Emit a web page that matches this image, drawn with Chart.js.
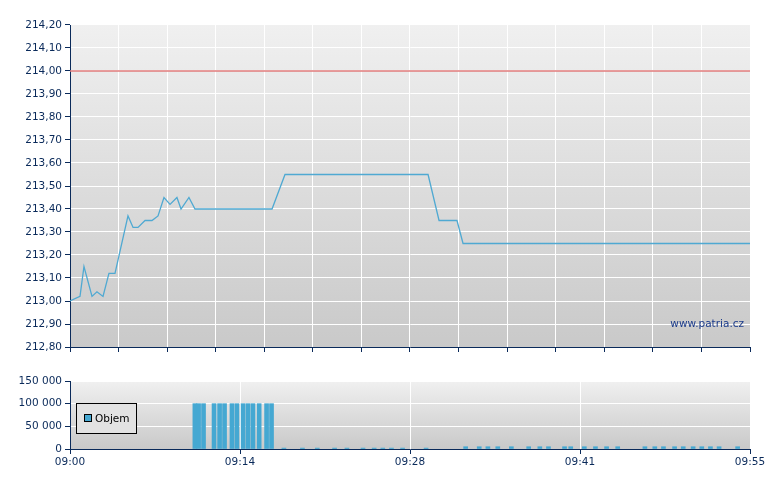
<!DOCTYPE html>
<html>
<head>
<meta charset="utf-8">
<script src="https://cdn.jsdelivr.net/npm/chart.js@4.4.1/dist/chart.umd.min.js"></script>
<style>
 body { margin:0; background:#fff; }
 #c1 { position:absolute; left:0; top:0; }
 #c2 { position:absolute; left:0; top:370px; }
</style>
</head>
<body>
<canvas id="c1" width="780" height="357"></canvas>
<canvas id="c2" width="780" height="103"></canvas>
<script>
// minutes after 09:00
var priceMin = [0, 0.81, 1.13, 1.78, 2.18, 2.67, 3.15, 3.64, 4.69, 5.10, 5.50, 6.07, 6.63, 7.12, 7.60, 8.09, 8.65, 8.98, 9.62, 10.11, 16.34, 17.39, 28.96, 29.85, 31.30, 31.79, 55];
var priceVal = [213.00, 213.02, 213.15, 213.02, 213.04, 213.02, 213.12, 213.12, 213.37, 213.32, 213.32, 213.35, 213.35, 213.37, 213.45, 213.42, 213.45, 213.40, 213.45, 213.40, 213.40, 213.55, 213.55, 213.35, 213.35, 213.25, 213.25];
var refPrice = 214.00;

var volMin = [10.1, 10.4, 10.8, 11.65, 12.1, 12.5, 13.1, 13.5, 14.0, 14.4, 14.8, 15.3, 15.9, 16.3,
  17.3, 18.8, 20.0, 21.4, 22.4, 23.7, 24.6, 25.3, 26.0, 26.9, 28.8,
  32.0, 33.1, 33.8, 34.6, 35.7, 37.1, 38.0, 38.7, 40.0, 40.5, 41.6, 42.5, 43.4, 44.3,
  46.5, 47.3, 48.0, 48.9, 49.6, 50.4, 51.1, 51.8, 52.5, 54.0, 54.7];
var volVal = [100000, 100000, 100000, 100000, 100000, 100000, 100000, 100000, 100000, 100000, 100000, 100000, 100000, 100000,
  2000, 2000, 2000, 2000, 2000, 2000, 2000, 2000, 2000, 2000, 2000,
  5000, 5000, 5000, 5000, 5000, 5000, 5000, 5000, 5000, 5000, 5000, 5000, 5000, 5000,
  5000, 5000, 5000, 5000, 5000, 5000, 5000, 5000, 5000, 5000];

var navy = '#0a2a5a';
var fontTick = { family: 'Verdana, "DejaVu Sans", sans-serif', size: 10.5 };

var bgPlugin = {
  id: 'bg',
  beforeDraw: function(chart) {
    var a = chart.chartArea, ctx = chart.ctx;
    var g = ctx.createLinearGradient(0, a.top, 0, a.bottom);
    g.addColorStop(0, '#f0f0f0');
    g.addColorStop(1, '#c9c9c9');
    ctx.save();
    ctx.fillStyle = g;
    ctx.fillRect(a.left, a.top, a.right - a.left, a.bottom - a.top);
    ctx.restore();
  }
};

function xScale(step, labels) {
  return {
    type: 'linear', min: 0, max: 55, offset: false,
    afterBuildTicks: function(s) {
      var t = [];
      for (var v = 0; v <= 55.001; v += step) t.push({ value: v });
      s.ticks = t;
    },
    afterFit: function(s) { s.height = labels ? 24 : 10; },
    grid: { color: '#ffffff', tickColor: navy, tickLength: 5, lineWidth: 1, offset: false },
    border: { color: navy },
    ticks: {
      display: labels, color: navy, font: fontTick, maxRotation: 0, autoSkip: false, padding: 2,
      callback: function(v) {
        var m = Math.round(v);
        return '09:' + (m < 10 ? '0' : '') + m;
      }
    }
  };
}

function pts(xs, ys) {
  return xs.map(function(x, i) { return { x: x, y: ys[i] }; });
}

new Chart(document.getElementById('c1'), {
  type: 'line',
  data: {
    datasets: [
      { data: pts(priceMin, priceVal), borderColor: '#4fa9d2', borderWidth: 1.3, pointRadius: 0, tension: 0 },
      { data: [{ x: 0, y: refPrice }, { x: 55, y: refPrice }], borderColor: '#e07b7b', borderWidth: 1.3, pointRadius: 0 }
    ]
  },
  options: {
    responsive: false, animation: false,
    layout: { padding: { left: 0, right: 30, top: 25, bottom: 0 } },
    plugins: { legend: { display: false }, tooltip: { enabled: false } },
    scales: {
      x: xScale(55 / 14, false),
      y: {
        min: 212.8, max: 214.2,
        afterBuildTicks: function(s) {
          var t = [];
          for (var i = 0; i <= 14; i++) t.push({ value: 212.8 + i * 0.1 });
          s.ticks = t;
        },
        afterFit: function(s) { s.width = 70; },
        grid: { color: '#ffffff', tickColor: navy, tickLength: 5 },
        border: { color: navy },
        ticks: { color: navy, font: fontTick, padding: 3, callback: function(v) { return v.toFixed(2).replace('.', ','); } }
      }
    }
  },
  plugins: [bgPlugin, {
    id: 'mark',
    afterDraw: function(chart) {
      var a = chart.chartArea, ctx = chart.ctx;
      ctx.save();
      ctx.fillStyle = '#1a3a8a';
      ctx.font = '10.5px Verdana, "DejaVu Sans", sans-serif';
      ctx.textAlign = 'right';
      ctx.fillText('www.patria.cz', a.right - 6, a.bottom - 20);
      ctx.restore();
    }
  }]
});

new Chart(document.getElementById('c2'), {
  type: 'bar',
  data: {
    datasets: [{ label: 'Objem', data: pts(volMin, volVal), backgroundColor: '#45a8d2', barThickness: 4, categoryPercentage: 1, barPercentage: 1 }]
  },
  options: {
    responsive: false, animation: false,
    layout: { padding: { left: 0, right: 30, top: 11, bottom: 0 } },
    plugins: { legend: { display: false }, tooltip: { enabled: false } },
    scales: {
      x: xScale(13.75, true),
      y: {
        min: 0, max: 150000,
        afterBuildTicks: function(s) { s.ticks = [0, 50000, 100000, 150000].map(function(v) { return { value: v }; }); },
        afterFit: function(s) { s.width = 70; },
        grid: { color: '#ffffff', tickColor: navy, tickLength: 5 },
        border: { color: navy },
        ticks: { color: navy, font: fontTick, padding: 3, callback: function(v) { return String(v).replace(/\B(?=(\d{3})+(?!\d))/g, ' '); } }
      }
    }
  },
  plugins: [bgPlugin, {
    id: 'legendBox',
    afterDraw: function(chart) {
      var ctx = chart.ctx, a = chart.chartArea;
      var x = a.left + 6, y = a.top + 22;
      ctx.save();
      ctx.fillStyle = '#e2e2e2';
      ctx.fillRect(x, y, 60, 30);
      ctx.strokeStyle = '#000';
      ctx.lineWidth = 1;
      ctx.strokeRect(x + 0.5, y + 0.5, 60, 30);
      ctx.fillStyle = '#45a8d2';
      ctx.fillRect(x + 8, y + 11, 8, 8);
      ctx.strokeRect(x + 8.5, y + 11.5, 7, 7);
      ctx.fillStyle = '#000';
      ctx.font = '10.5px Verdana, "DejaVu Sans", sans-serif';
      ctx.textBaseline = 'middle';
      ctx.fillText('Objem', x + 19, y + 16);
      ctx.restore();
    }
  }]
});
</script>
</body>
</html>
